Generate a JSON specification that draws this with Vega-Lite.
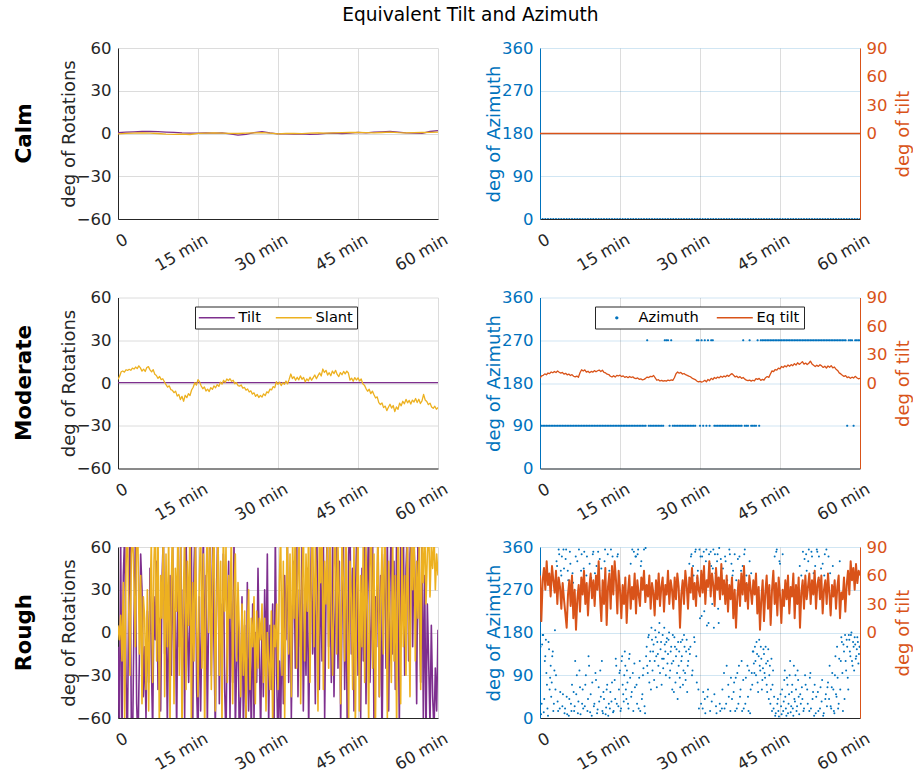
{
"$schema": "https://vega.github.io/schema/vega-lite/v6.json",
"background": "white",
"padding": {"left": 13, "top": 6, "right": 0, "bottom": 0},
"title": {"text": "Equivalent Tilt and Azimuth", "font": "DejaVu Sans", "fontSize": 18.6, "fontWeight": "normal", "color": "#000000", "anchor": "middle", "frame": "bounds", "offset": 15, "dx": 7},
"config": {
  "font": "DejaVu Sans",
  "view": {"stroke": null},
  "line": {"strokeJoin": "round"},
  "axis": {"labelFont": "DejaVu Sans", "labelFontSize": 16.5, "labelColor": "#262626", "titleFont": "DejaVu Sans", "titleFontSize": 18, "titleFontWeight": "normal", "titleColor": "#262626", "gridColor": "#dcdcdc", "domainColor": "#262626", "ticks": false, "labelFlush": false, "labelOverlap": false, "labelBound": false},
  "axisX": {"labelAngle": -30, "labelAlign": "right", "labelBaseline": "middle", "labelPadding": 19, "labelOffset": 8},
  "axisY": {"labelPadding": 7, "titlePadding": -2},
  "legend": {"orient": "none", "legendY": 9, "direction": "horizontal", "symbolSize": 81, "symbolOffset": 10.5, "symbolStrokeWidth": 1.5, "labelFont": "DejaVu Sans", "labelFontSize": 14.6, "labelColor": "#000000", "labelOffset": 14.5, "columnPadding": 14, "strokeColor": "#262626", "fillColor": "#ffffff", "padding": 4, "cornerRadius": 0}
},
"datasets": {
"calm": [
{"t":0,"tilt":0.6,"slant":-0.3,"eq":0},{"t":1.5,"tilt":0.9,"slant":0.1,"eq":0},{"t":3,"tilt":1.2,"slant":0.3,"eq":0},{"t":4.5,"tilt":1.4,"slant":0.5,"eq":0},{"t":6,"tilt":1.5,"slant":0.2,"eq":0},{"t":7.5,"tilt":1.3,"slant":0,"eq":0},{"t":9,"tilt":1,"slant":-0.4,"eq":0},{"t":10.5,"tilt":0.8,"slant":-0.6,"eq":0},{"t":12,"tilt":0.4,"slant":-0.4,"eq":0},{"t":13.5,"tilt":0.2,"slant":-0.7,"eq":0},
{"t":15,"tilt":0.3,"slant":0.1,"eq":0},{"t":16.5,"tilt":0.5,"slant":0.2,"eq":0},{"t":18,"tilt":0.3,"slant":0.4,"eq":0},{"t":19.5,"tilt":0.4,"slant":0.3,"eq":0},{"t":21,"tilt":-0.2,"slant":0.1,"eq":0},{"t":22.5,"tilt":-1.2,"slant":0,"eq":0},{"t":24,"tilt":-0.6,"slant":0.3,"eq":0},{"t":25.5,"tilt":0.6,"slant":0.5,"eq":0},{"t":27,"tilt":1.3,"slant":0.6,"eq":0},{"t":28.5,"tilt":0.4,"slant":0.2,"eq":0},
{"t":30,"tilt":-0.3,"slant":-0.2,"eq":0},{"t":31.5,"tilt":-0.2,"slant":0,"eq":0},{"t":33,"tilt":-0.4,"slant":0.1,"eq":0},{"t":34.5,"tilt":-0.3,"slant":-0.1,"eq":0},{"t":36,"tilt":-0.6,"slant":0.2,"eq":0},{"t":37.5,"tilt":-0.5,"slant":0.4,"eq":0},{"t":39,"tilt":0.1,"slant":0.3,"eq":0},{"t":40.5,"tilt":0.2,"slant":0.5,"eq":0},{"t":42,"tilt":-0.1,"slant":0.6,"eq":0},{"t":43.5,"tilt":0.3,"slant":0.7,"eq":0},
{"t":45,"tilt":0.8,"slant":0.8,"eq":0},{"t":46.5,"tilt":0.5,"slant":0.6,"eq":0},{"t":48,"tilt":0.9,"slant":0.4,"eq":0},{"t":49.5,"tilt":1.1,"slant":0.7,"eq":0},{"t":51,"tilt":1.4,"slant":0.9,"eq":0},{"t":52.5,"tilt":1,"slant":0.6,"eq":0},{"t":54,"tilt":0.4,"slant":0.5,"eq":0},{"t":55.5,"tilt":0.2,"slant":0.6,"eq":0},{"t":57,"tilt":0.1,"slant":0.7,"eq":0},{"t":58.5,"tilt":1.4,"slant":0.8,"eq":0},{"t":60,"tilt":2,"slant":0.9,"eq":0}
],
"calm_az": [
{"t":0,"az":0},{"t":0.5,"az":0},{"t":1,"az":0},{"t":1.5,"az":0},{"t":2,"az":0},{"t":2.5,"az":0},{"t":3,"az":0},{"t":3.5,"az":0},{"t":4,"az":0},{"t":4.5,"az":0},{"t":5,"az":0},{"t":5.5,"az":0},{"t":6,"az":0},{"t":6.5,"az":0},{"t":7,"az":0},{"t":7.5,"az":0},{"t":8,"az":0},{"t":8.5,"az":0},{"t":9,"az":0},{"t":9.5,"az":0},
{"t":10,"az":0},{"t":10.5,"az":0},{"t":11,"az":0},{"t":11.5,"az":0},{"t":12,"az":0},{"t":12.5,"az":0},{"t":13,"az":0},{"t":13.5,"az":0},{"t":14,"az":0},{"t":14.5,"az":0},{"t":15,"az":0},{"t":15.5,"az":0},{"t":16,"az":0},{"t":16.5,"az":0},{"t":17,"az":0},{"t":17.5,"az":0},{"t":18,"az":0},{"t":18.5,"az":0},{"t":19,"az":0},{"t":19.5,"az":0},
{"t":20,"az":0},{"t":20.5,"az":0},{"t":21,"az":0},{"t":21.5,"az":0},{"t":22,"az":0},{"t":22.5,"az":0},{"t":23,"az":0},{"t":23.5,"az":0},{"t":24,"az":0},{"t":24.5,"az":0},{"t":25,"az":0},{"t":25.5,"az":0},{"t":26,"az":0},{"t":26.5,"az":0},{"t":27,"az":0},{"t":27.5,"az":0},{"t":28,"az":0},{"t":28.5,"az":0},{"t":29,"az":0},{"t":29.5,"az":0},
{"t":30,"az":0},{"t":30.5,"az":0},{"t":31,"az":0},{"t":31.5,"az":0},{"t":32,"az":0},{"t":32.5,"az":0},{"t":33,"az":0},{"t":33.5,"az":0},{"t":34,"az":0},{"t":34.5,"az":0},{"t":35,"az":0},{"t":35.5,"az":0},{"t":36,"az":0},{"t":36.5,"az":0},{"t":37,"az":0},{"t":37.5,"az":0},{"t":38,"az":0},{"t":38.5,"az":0},{"t":39,"az":0},{"t":39.5,"az":0},
{"t":40,"az":0},{"t":40.5,"az":0},{"t":41,"az":0},{"t":41.5,"az":0},{"t":42,"az":0},{"t":42.5,"az":0},{"t":43,"az":0},{"t":43.5,"az":0},{"t":44,"az":0},{"t":44.5,"az":0},{"t":45,"az":0},{"t":45.5,"az":0},{"t":46,"az":0},{"t":46.5,"az":0},{"t":47,"az":0},{"t":47.5,"az":0},{"t":48,"az":0},{"t":48.5,"az":0},{"t":49,"az":0},{"t":49.5,"az":0},
{"t":50,"az":0},{"t":50.5,"az":0},{"t":51,"az":0},{"t":51.5,"az":0},{"t":52,"az":0},{"t":52.5,"az":0},{"t":53,"az":0},{"t":53.5,"az":0},{"t":54,"az":0},{"t":54.5,"az":0},{"t":55,"az":0},{"t":55.5,"az":0},{"t":56,"az":0},{"t":56.5,"az":0},{"t":57,"az":0},{"t":57.5,"az":0},{"t":58,"az":0},{"t":58.5,"az":0},{"t":59,"az":0},{"t":59.5,"az":0},{"t":60,"az":0}
],
"moderate_tilt": [{"t":0,"tilt":0.3},{"t":15,"tilt":0.3},{"t":30,"tilt":0.3},{"t":45,"tilt":0.3},{"t":60,"tilt":0.3}],
"moderate": [
{"t":0,"slant":2.5,"az":90,"eq":5.2},{"t":0.3,"slant":4.8,"az":90,"eq":7.4},{"t":0.6,"slant":7.9,"az":90,"eq":8.1},{"t":0.9,"slant":8.4,"az":90,"eq":9.6},{"t":1.2,"slant":7.6,"az":90,"eq":8.7},{"t":1.5,"slant":9.3,"az":90,"eq":10.5},{"t":1.8,"slant":8.8,"az":90,"eq":9.9},{"t":2.1,"slant":9.6,"az":90,"eq":11.6},{"t":2.4,"slant":8.9,"az":90,"eq":10.8},{"t":2.7,"slant":10.4,"az":90,"eq":12.1},
{"t":3,"slant":9.8,"az":90,"eq":11},{"t":3.3,"slant":11.2,"az":90,"eq":12.6},{"t":3.6,"slant":10.1,"az":90,"eq":11.3},{"t":3.9,"slant":12,"az":90,"eq":10.4},{"t":4.2,"slant":10.6,"az":90,"eq":11.1},{"t":4.5,"slant":8.3,"az":90,"eq":9.3},{"t":4.8,"slant":9.7,"az":90,"eq":10.2},{"t":5.1,"slant":8.1,"az":90,"eq":8.6},{"t":5.4,"slant":10.9,"az":90,"eq":9.4},{"t":5.7,"slant":11.5,"az":90,"eq":7.9},
{"t":6,"slant":9.2,"az":90,"eq":8.8},{"t":6.3,"slant":7.8,"az":90,"eq":7.1},{"t":6.6,"slant":9.4,"az":90,"eq":6.4},{"t":6.9,"slant":6.1,"az":90,"eq":7.3},{"t":7.2,"slant":5.3,"az":90,"eq":6},{"t":7.5,"slant":3.2,"az":90,"eq":10.8},{"t":7.8,"slant":4.6,"az":90,"eq":13.9},{"t":8.1,"slant":2.4,"az":90,"eq":12.6},{"t":8.4,"slant":3,"az":90,"eq":13.8},{"t":8.7,"slant":0.9,"az":90,"eq":11.5},
{"t":9,"slant":-1.2,"az":90,"eq":12.4},{"t":9.3,"slant":-2.9,"az":90,"eq":10.9},{"t":9.6,"slant":-2,"az":90,"eq":12.2},{"t":9.9,"slant":-4.6,"az":90,"eq":11.4},{"t":10.2,"slant":-5.1,"az":90,"eq":13},{"t":10.5,"slant":-6.8,"az":90,"eq":11.8},{"t":10.8,"slant":-5.7,"az":90,"eq":12.9},{"t":11.1,"slant":-9.2,"az":90,"eq":13.6},{"t":11.4,"slant":-8,"az":90,"eq":12.1},{"t":11.7,"slant":-11.6,"az":90,"eq":13.4},
{"t":12,"slant":-9.4,"az":90,"eq":11.2},{"t":12.3,"slant":-12.8,"az":90,"eq":10.6},{"t":12.6,"slant":-8.6,"az":90,"eq":9.3},{"t":12.9,"slant":-10.3,"az":90,"eq":8.9},{"t":13.2,"slant":-7.5,"az":90,"eq":7.1},{"t":13.5,"slant":-8.8,"az":90,"eq":6.3},{"t":13.8,"slant":-4.9,"az":90,"eq":7.6},{"t":14.1,"slant":-3,"az":90,"eq":6.2},{"t":14.4,"slant":0.2,"az":90,"eq":8},{"t":14.7,"slant":-1.5,"az":90,"eq":7.4},
{"t":15,"slant":2.4,"az":90,"eq":8.2},{"t":15.3,"slant":0.8,"az":90,"eq":6.7},{"t":15.6,"slant":-2.1,"az":90,"eq":7.5},{"t":15.9,"slant":-4,"az":90,"eq":5.9},{"t":16.2,"slant":-2.8,"az":90,"eq":6.8},{"t":16.5,"slant":-5.6,"az":90,"eq":5.6},{"t":16.8,"slant":-4.3,"az":90,"eq":6.9},{"t":17.1,"slant":-6,"az":90,"eq":5.8},{"t":17.4,"slant":-3.2,"az":90,"eq":6.5},{"t":17.7,"slant":-4.5,"az":90,"eq":5.1},
{"t":18,"slant":-2,"az":90,"eq":4.6},{"t":18.3,"slant":-3.3,"az":90,"eq":5.3},{"t":18.6,"slant":-1.1,"az":90,"eq":3.9},{"t":18.9,"slant":-2.4,"az":90,"eq":4.4},{"t":19.2,"slant":0.6,"az":90,"eq":3.2},{"t":19.5,"slant":-0.8,"az":90,"eq":3.8},{"t":19.8,"slant":1.9,"az":90,"eq":4.9},{"t":20.1,"slant":0.4,"az":270,"eq":6.2},{"t":20.4,"slant":2.8,"az":90,"eq":5.7},{"t":20.7,"slant":1.7,"az":90,"eq":7},
{"t":21,"slant":3,"az":90,"eq":6.6},{"t":21.3,"slant":1.2,"az":90,"eq":7.9},{"t":21.6,"slant":1.9,"az":90,"eq":5.4},{"t":21.9,"slant":-0.5,"az":90,"eq":2.9},{"t":22.2,"slant":0.3,"az":90,"eq":3.5},{"t":22.5,"slant":-1.8,"az":90,"eq":2.1},{"t":22.8,"slant":-2.2,"az":90,"eq":2.8},{"t":23.1,"slant":-1.4,"az":90,"eq":1.9},{"t":23.4,"slant":-3.6,"az":270,"eq":2.6},{"t":23.7,"slant":-3.1,"az":270,"eq":2},
{"t":24,"slant":-5,"az":270,"eq":3.1},{"t":24.3,"slant":-4.2,"az":90,"eq":2.4},{"t":24.6,"slant":-6.3,"az":270,"eq":3.3},{"t":24.9,"slant":-5.5,"az":90,"eq":2.7},{"t":25.2,"slant":-7.8,"az":90,"eq":5.5},{"t":25.5,"slant":-6.9,"az":90,"eq":9.8},{"t":25.8,"slant":-9.4,"az":90,"eq":11.6},{"t":26.1,"slant":-8,"az":90,"eq":10.3},{"t":26.4,"slant":-10.2,"az":90,"eq":11.1},{"t":26.7,"slant":-8.7,"az":90,"eq":9.4},
{"t":27,"slant":-9.9,"az":90,"eq":10},{"t":27.3,"slant":-7.6,"az":90,"eq":8.7},{"t":27.6,"slant":-8.9,"az":90,"eq":8.1},{"t":27.9,"slant":-6.2,"az":90,"eq":7.3},{"t":28.2,"slant":-6.9,"az":90,"eq":6.6},{"t":28.5,"slant":-4.3,"az":90,"eq":5.2},{"t":28.8,"slant":-4.8,"az":90,"eq":4.3},{"t":29.1,"slant":-2.5,"az":90,"eq":3.6},{"t":29.4,"slant":-3.3,"az":270,"eq":2.1},{"t":29.7,"slant":0.9,"az":270,"eq":1.2},
{"t":30,"slant":-1,"az":90,"eq":1.8},{"t":30.3,"slant":0.6,"az":270,"eq":0.9},{"t":30.6,"slant":-1.8,"az":90,"eq":1.6},{"t":30.9,"slant":0.2,"az":270,"eq":2.8},{"t":31.2,"slant":-0.9,"az":90,"eq":1.3},{"t":31.5,"slant":1.4,"az":270,"eq":3.7},{"t":31.8,"slant":-0.6,"az":90,"eq":2.4},{"t":32.1,"slant":2.7,"az":270,"eq":4.9},{"t":32.4,"slant":6.3,"az":270,"eq":3.6},{"t":32.7,"slant":3.1,"az":90,"eq":5.8},
{"t":33,"slant":4.4,"az":90,"eq":4.7},{"t":33.3,"slant":1.9,"az":90,"eq":6.2},{"t":33.6,"slant":4,"az":90,"eq":5.4},{"t":33.9,"slant":2.2,"az":90,"eq":7.1},{"t":34.2,"slant":5,"az":90,"eq":6},{"t":34.5,"slant":2.6,"az":90,"eq":7.4},{"t":34.8,"slant":3.9,"az":90,"eq":6.5},{"t":35.1,"slant":0.8,"az":90,"eq":8.2},{"t":35.4,"slant":2.9,"az":90,"eq":7},{"t":35.7,"slant":1.5,"az":90,"eq":8.8},
{"t":36,"slant":4.1,"az":90,"eq":9.9},{"t":36.3,"slant":1.9,"az":90,"eq":8.1},{"t":36.6,"slant":3.8,"az":90,"eq":6.4},{"t":36.9,"slant":5.6,"az":90,"eq":7.2},{"t":37.2,"slant":3,"az":90,"eq":5.6},{"t":37.5,"slant":5.2,"az":90,"eq":6.7},{"t":37.8,"slant":7.1,"az":90,"eq":4.9},{"t":38.1,"slant":4.9,"az":270,"eq":5.8},{"t":38.4,"slant":9.8,"az":90,"eq":4.1},{"t":38.7,"slant":7.4,"az":90,"eq":3},
{"t":39,"slant":8.9,"az":90,"eq":2.4},{"t":39.3,"slant":5.6,"az":270,"eq":3.1},{"t":39.6,"slant":7.2,"az":90,"eq":2},{"t":39.9,"slant":5.1,"az":90,"eq":2.9},{"t":40.2,"slant":8.4,"az":90,"eq":2.2},{"t":40.5,"slant":6.6,"az":90,"eq":4.6},{"t":40.8,"slant":8.9,"az":270,"eq":3.8},{"t":41.1,"slant":6,"az":90,"eq":4.9},{"t":41.4,"slant":4.5,"az":270,"eq":2.7},{"t":41.7,"slant":7.3,"az":270,"eq":3.9},
{"t":42,"slant":5.8,"az":270,"eq":3.1},{"t":42.3,"slant":8.1,"az":270,"eq":5.6},{"t":42.6,"slant":6.4,"az":270,"eq":6.8},{"t":42.9,"slant":8.3,"az":270,"eq":5.9},{"t":43.2,"slant":7,"az":270,"eq":9.4},{"t":43.5,"slant":2,"az":270,"eq":12.8},{"t":43.8,"slant":3.4,"az":270,"eq":12},{"t":44.1,"slant":1.2,"az":270,"eq":14.2},{"t":44.4,"slant":3.8,"az":270,"eq":13.5},{"t":44.7,"slant":2.1,"az":270,"eq":15.6},
{"t":45,"slant":3.6,"az":270,"eq":14.8},{"t":45.3,"slant":1.4,"az":270,"eq":17.4},{"t":45.6,"slant":2.8,"az":270,"eq":16.3},{"t":45.9,"slant":-0.6,"az":270,"eq":18.1},{"t":46.2,"slant":-1.5,"az":270,"eq":17},{"t":46.5,"slant":-3.9,"az":270,"eq":18.9},{"t":46.8,"slant":-5.8,"az":270,"eq":17.6},{"t":47.1,"slant":-4.4,"az":270,"eq":19.3},{"t":47.4,"slant":-7.5,"az":270,"eq":18.2},{"t":47.7,"slant":-5.7,"az":270,"eq":20.4},
{"t":48,"slant":-8.3,"az":270,"eq":18.9},{"t":48.3,"slant":-10.5,"az":270,"eq":21.3},{"t":48.6,"slant":-9.7,"az":270,"eq":19.6},{"t":48.9,"slant":-13.8,"az":270,"eq":20.9},{"t":49.2,"slant":-15.1,"az":270,"eq":22.5},{"t":49.5,"slant":-14,"az":270,"eq":19.8},{"t":49.8,"slant":-17.3,"az":270,"eq":21},{"t":50.1,"slant":-16.2,"az":270,"eq":19.4},{"t":50.4,"slant":-19.4,"az":270,"eq":20.8},{"t":50.7,"slant":-17,"az":270,"eq":23},
{"t":51,"slant":-14.9,"az":270,"eq":20.1},{"t":51.3,"slant":-17.6,"az":270,"eq":18.6},{"t":51.6,"slant":-15.8,"az":270,"eq":17.3},{"t":51.9,"slant":-20.1,"az":270,"eq":18.8},{"t":52.2,"slant":-16.8,"az":270,"eq":17.5},{"t":52.5,"slant":-18.5,"az":270,"eq":19.2},{"t":52.8,"slant":-14.1,"az":270,"eq":18},{"t":53.1,"slant":-16,"az":270,"eq":16.4},{"t":53.4,"slant":-12.8,"az":270,"eq":17.7},{"t":53.7,"slant":-14.6,"az":270,"eq":15.8},
{"t":54,"slant":-11.5,"az":270,"eq":17.9},{"t":54.3,"slant":-13.9,"az":270,"eq":16.6},{"t":54.6,"slant":-12.2,"az":270,"eq":18.3},{"t":54.9,"slant":-14.8,"az":270,"eq":15.9},{"t":55.2,"slant":-12,"az":270,"eq":16.8},{"t":55.5,"slant":-13.3,"az":270,"eq":14.6},{"t":55.8,"slant":-10.9,"az":270,"eq":13.2},{"t":56.1,"slant":-13.7,"az":270,"eq":10.7},{"t":56.4,"slant":-11.4,"az":270,"eq":9.6},{"t":56.7,"slant":-14.4,"az":270,"eq":8.2},
{"t":57,"slant":-12.6,"az":270,"eq":6.9},{"t":57.3,"slant":-8,"az":270,"eq":7.8},{"t":57.6,"slant":-11.9,"az":90,"eq":5.6},{"t":57.9,"slant":-13,"az":270,"eq":6.4},{"t":58.2,"slant":-15.2,"az":270,"eq":4.9},{"t":58.5,"slant":-14.1,"az":270,"eq":6.1},{"t":58.8,"slant":-16.9,"az":90,"eq":5.3},{"t":59.1,"slant":-17.8,"az":270,"eq":7},{"t":59.4,"slant":-16.3,"az":270,"eq":5.5},{"t":59.7,"slant":-18.4,"az":270,"eq":4.4},
{"t":60,"slant":-17.2,"az":270,"eq":5}
],
"rough": [
{"t":0,"tilt":-10,"slant":5,"eq":60},{"t":0.25,"tilt":-70,"slant":-5,"eq":12},{"t":0.5,"tilt":65,"slant":12,"eq":55},{"t":0.75,"tilt":-75,"slant":-20,"eq":68},{"t":1,"tilt":40,"slant":35,"eq":45},{"t":1.25,"tilt":70,"slant":-60,"eq":75},{"t":1.5,"tilt":-30,"slant":45,"eq":50},{"t":1.75,"tilt":-80,"slant":80,"eq":62},{"t":2,"tilt":20,"slant":20,"eq":38},{"t":2.25,"tilt":75,"slant":-30,"eq":70},
{"t":2.5,"tilt":-65,"slant":55,"eq":55},{"t":2.75,"tilt":-72,"slant":70,"eq":42},{"t":3,"tilt":10,"slant":35,"eq":65},{"t":3.25,"tilt":62,"slant":-10,"eq":30},{"t":3.5,"tilt":-50,"slant":72,"eq":58},{"t":3.75,"tilt":-78,"slant":60,"eq":48},{"t":4,"tilt":-20,"slant":-15,"eq":25},{"t":4.25,"tilt":55,"slant":40,"eq":52},{"t":4.5,"tilt":30,"slant":-50,"eq":35},{"t":4.75,"tilt":-45,"slant":25,"eq":20},{"t":5,"tilt":-10,"slant":10,"eq":5},
{"t":5.25,"tilt":-60,"slant":-40,"eq":40},{"t":5.5,"tilt":15,"slant":30,"eq":55},{"t":5.75,"tilt":-35,"slant":-55,"eq":28},{"t":6,"tilt":45,"slant":20,"eq":60},{"t":6.25,"tilt":-20,"slant":65,"eq":15},{"t":6.5,"tilt":-70,"slant":-35,"eq":45},{"t":6.75,"tilt":25,"slant":50,"eq":3},{"t":7,"tilt":-5,"slant":80,"eq":35},{"t":7.25,"tilt":50,"slant":-20,"eq":50},{"t":7.5,"tilt":-40,"slant":75,"eq":22},
{"t":7.75,"tilt":10,"slant":-70,"eq":58},{"t":8,"tilt":-55,"slant":40,"eq":40},{"t":8.25,"tilt":35,"slant":10,"eq":65},{"t":8.5,"tilt":70,"slant":78,"eq":30},{"t":8.75,"tilt":-15,"slant":-45,"eq":52},{"t":9,"tilt":20,"slant":55,"eq":18},{"t":9.25,"tilt":-65,"slant":-10,"eq":48},{"t":9.5,"tilt":5,"slant":70,"eq":62},{"t":9.75,"tilt":40,"slant":-65,"eq":36},{"t":10,"tilt":-30,"slant":35,"eq":55},
{"t":10.25,"tilt":60,"slant":80,"eq":28},{"t":10.5,"tilt":-25,"slant":-50,"eq":60},{"t":10.75,"tilt":15,"slant":45,"eq":45},{"t":11,"tilt":-70,"slant":15,"eq":75},{"t":11.25,"tilt":40,"slant":75,"eq":38},{"t":11.5,"tilt":-10,"slant":-30,"eq":12},{"t":11.75,"tilt":65,"slant":60,"eq":55},{"t":12,"tilt":-45,"slant":-72,"eq":30},{"t":12.25,"tilt":30,"slant":25,"eq":68},{"t":12.5,"tilt":-60,"slant":70,"eq":8},
{"t":12.75,"tilt":72,"slant":-40,"eq":48},{"t":13,"tilt":5,"slant":50,"eq":62},{"t":13.25,"tilt":-35,"slant":5,"eq":25},{"t":13.5,"tilt":20,"slant":78,"eq":70},{"t":13.75,"tilt":68,"slant":-60,"eq":40},{"t":14,"tilt":-75,"slant":35,"eq":75},{"t":14.25,"tilt":45,"slant":-20,"eq":55},{"t":14.5,"tilt":80,"slant":65,"eq":20},{"t":14.75,"tilt":-40,"slant":10,"eq":65},{"t":15,"tilt":-78,"slant":-45,"eq":45},
{"t":15.25,"tilt":25,"slant":40,"eq":15},{"t":15.5,"tilt":-55,"slant":75,"eq":50},{"t":15.75,"tilt":10,"slant":-25,"eq":30},{"t":16,"tilt":70,"slant":55,"eq":58},{"t":16.25,"tilt":-20,"slant":-70,"eq":10},{"t":16.5,"tilt":40,"slant":30,"eq":42},{"t":16.75,"tilt":-65,"slant":80,"eq":60},{"t":17,"tilt":15,"slant":0,"eq":25},{"t":17.25,"tilt":75,"slant":62,"eq":48},{"t":17.5,"tilt":-30,"slant":-40,"eq":35},
{"t":17.75,"tilt":60,"slant":45,"eq":62},{"t":18,"tilt":-10,"slant":78,"eq":20},{"t":18.25,"tilt":-70,"slant":-55,"eq":55},{"t":18.5,"tilt":35,"slant":20,"eq":40},{"t":18.75,"tilt":78,"slant":70,"eq":28},{"t":19,"tilt":-50,"slant":-30,"eq":58},{"t":19.25,"tilt":20,"slant":50,"eq":45},{"t":19.5,"tilt":-15,"slant":-65,"eq":65},{"t":19.75,"tilt":55,"slant":75,"eq":32},{"t":20,"tilt":-40,"slant":15,"eq":50},
{"t":20.25,"tilt":-75,"slant":60,"eq":38},{"t":20.5,"tilt":10,"slant":-35,"eq":60},{"t":20.75,"tilt":50,"slant":40,"eq":25},{"t":21,"tilt":-60,"slant":10,"eq":52},{"t":21.25,"tilt":30,"slant":72,"eq":42},{"t":21.5,"tilt":-35,"slant":-50,"eq":18},{"t":21.75,"tilt":65,"slant":25,"eq":55},{"t":22,"tilt":-70,"slant":55,"eq":35},{"t":22.25,"tilt":-20,"slant":-20,"eq":62},{"t":22.5,"tilt":15,"slant":35,"eq":28},
{"t":22.75,"tilt":-80,"slant":0,"eq":48},{"t":23,"tilt":-45,"slant":-45,"eq":58},{"t":23.25,"tilt":25,"slant":20,"eq":22},{"t":23.5,"tilt":-65,"slant":-30,"eq":50},{"t":23.75,"tilt":5,"slant":15,"eq":40},{"t":24,"tilt":-78,"slant":-60,"eq":65},{"t":24.25,"tilt":35,"slant":5,"eq":30},{"t":24.5,"tilt":-55,"slant":30,"eq":55},{"t":24.75,"tilt":-10,"slant":-40,"eq":45},{"t":25,"tilt":-72,"slant":10,"eq":25},
{"t":25.25,"tilt":20,"slant":-10,"eq":58},{"t":25.5,"tilt":-60,"slant":25,"eq":35},{"t":25.75,"tilt":0,"slant":-50,"eq":62},{"t":26,"tilt":-35,"slant":15,"eq":48},{"t":26.25,"tilt":45,"slant":-25,"eq":5},{"t":26.5,"tilt":-15,"slant":10,"eq":40},{"t":26.75,"tilt":-70,"slant":-5,"eq":55},{"t":27,"tilt":10,"slant":20,"eq":30},{"t":27.25,"tilt":-45,"slant":-35,"eq":65},{"t":27.5,"tilt":30,"slant":10,"eq":50},
{"t":27.75,"tilt":-25,"slant":-55,"eq":25},{"t":28,"tilt":55,"slant":0,"eq":58},{"t":28.25,"tilt":-65,"slant":-20,"eq":42},{"t":28.5,"tilt":5,"slant":-40,"eq":68},{"t":28.75,"tilt":-40,"slant":15,"eq":35},{"t":29,"tilt":20,"slant":-65,"eq":52},{"t":29.25,"tilt":-75,"slant":5,"eq":28},{"t":29.5,"tilt":70,"slant":-10,"eq":60},{"t":29.75,"tilt":-30,"slant":20,"eq":45},{"t":30,"tilt":-80,"slant":-40,"eq":38},
{"t":30.25,"tilt":-20,"slant":35,"eq":65},{"t":30.5,"tilt":-68,"slant":70,"eq":42},{"t":30.75,"tilt":15,"slant":-30,"eq":70},{"t":31,"tilt":-50,"slant":50,"eq":30},{"t":31.25,"tilt":40,"slant":-60,"eq":55},{"t":31.5,"tilt":-5,"slant":20,"eq":48},{"t":31.75,"tilt":65,"slant":75,"eq":75},{"t":32,"tilt":-35,"slant":-15,"eq":38},{"t":32.25,"tilt":25,"slant":55,"eq":62},{"t":32.5,"tilt":-60,"slant":-45,"eq":50},
{"t":32.75,"tilt":10,"slant":65,"eq":28},{"t":33,"tilt":50,"slant":10,"eq":68},{"t":33.25,"tilt":-25,"slant":80,"eq":45},{"t":33.5,"tilt":72,"slant":-25,"eq":58},{"t":33.75,"tilt":-45,"slant":40,"eq":35},{"t":34,"tilt":30,"slant":70,"eq":72},{"t":34.25,"tilt":-10,"slant":-50,"eq":40},{"t":34.5,"tilt":60,"slant":30,"eq":55},{"t":34.75,"tilt":-55,"slant":78,"eq":30},{"t":35,"tilt":20,"slant":-20,"eq":60},
{"t":35.25,"tilt":-30,"slant":55,"eq":22},{"t":35.5,"tilt":45,"slant":15,"eq":50},{"t":35.75,"tilt":-70,"slant":75,"eq":35},{"t":36,"tilt":15,"slant":-35,"eq":58},{"t":36.25,"tilt":62,"slant":45,"eq":15},{"t":36.5,"tilt":-15,"slant":80,"eq":45},{"t":36.75,"tilt":35,"slant":-10,"eq":5},{"t":37,"tilt":-50,"slant":60,"eq":38},{"t":37.25,"tilt":78,"slant":25,"eq":55},{"t":37.5,"tilt":5,"slant":-55,"eq":28},
{"t":37.75,"tilt":-40,"slant":70,"eq":62},{"t":38,"tilt":55,"slant":35,"eq":40},{"t":38.25,"tilt":-20,"slant":78,"eq":70},{"t":38.5,"tilt":70,"slant":-40,"eq":33},{"t":38.75,"tilt":-60,"slant":50,"eq":52},{"t":39,"tilt":25,"slant":20,"eq":25},{"t":39.25,"tilt":80,"slant":65,"eq":60},{"t":39.5,"tilt":-10,"slant":-25,"eq":45},{"t":39.75,"tilt":40,"slant":80,"eq":30},{"t":40,"tilt":-35,"slant":10,"eq":55},
{"t":40.25,"tilt":65,"slant":-30,"eq":40},{"t":40.5,"tilt":-45,"slant":45,"eq":62},{"t":40.75,"tilt":20,"slant":78,"eq":20},{"t":41,"tilt":75,"slant":-15,"eq":48},{"t":41.25,"tilt":-25,"slant":60,"eq":3},{"t":41.5,"tilt":50,"slant":20,"eq":35},{"t":41.75,"tilt":-65,"slant":-50,"eq":55},{"t":42,"tilt":10,"slant":70,"eq":12},{"t":42.25,"tilt":70,"slant":35,"eq":42},{"t":42.5,"tilt":-40,"slant":-20,"eq":60},
{"t":42.75,"tilt":30,"slant":80,"eq":25},{"t":43,"tilt":-75,"slant":5,"eq":50},{"t":43.25,"tilt":55,"slant":-60,"eq":8},{"t":43.5,"tilt":80,"slant":50,"eq":45},{"t":43.75,"tilt":-15,"slant":25,"eq":65},{"t":44,"tilt":45,"slant":-40,"eq":30},{"t":44.25,"tilt":-55,"slant":65,"eq":52},{"t":44.5,"tilt":20,"slant":-70,"eq":18},{"t":44.75,"tilt":68,"slant":30,"eq":58},{"t":45,"tilt":-30,"slant":75,"eq":40},
{"t":45.25,"tilt":10,"slant":-55,"eq":10},{"t":45.5,"tilt":-60,"slant":40,"eq":45},{"t":45.75,"tilt":45,"slant":-10,"eq":28},{"t":46,"tilt":-20,"slant":70,"eq":55},{"t":46.25,"tilt":72,"slant":-35,"eq":35},{"t":46.5,"tilt":-50,"slant":60,"eq":60},{"t":46.75,"tilt":30,"slant":15,"eq":20},{"t":47,"tilt":78,"slant":-65,"eq":48},{"t":47.25,"tilt":-35,"slant":45,"eq":38},{"t":47.5,"tilt":5,"slant":80,"eq":62},
{"t":47.75,"tilt":60,"slant":-25,"eq":15},{"t":48,"tilt":-70,"slant":55,"eq":50},{"t":48.25,"tilt":25,"slant":-75,"eq":30},{"t":48.5,"tilt":-10,"slant":30,"eq":58},{"t":48.75,"tilt":75,"slant":70,"eq":5},{"t":49,"tilt":-45,"slant":-45,"eq":42},{"t":49.25,"tilt":40,"slant":20,"eq":55},{"t":49.5,"tilt":-80,"slant":60,"eq":25},{"t":49.75,"tilt":15,"slant":-15,"eq":60},{"t":50,"tilt":55,"slant":75,"eq":35},
{"t":50.25,"tilt":-25,"slant":35,"eq":48},{"t":50.5,"tilt":70,"slant":-60,"eq":62},{"t":50.75,"tilt":-55,"slant":50,"eq":30},{"t":51,"tilt":35,"slant":10,"eq":55},{"t":51.25,"tilt":80,"slant":-35,"eq":40},{"t":51.5,"tilt":-15,"slant":65,"eq":65},{"t":51.75,"tilt":50,"slant":-20,"eq":25},{"t":52,"tilt":-40,"slant":40,"eq":50},{"t":52.25,"tilt":75,"slant":-70,"eq":58},{"t":52.5,"tilt":20,"slant":75,"eq":35},
{"t":52.75,"tilt":-65,"slant":25,"eq":60},{"t":53,"tilt":60,"slant":-50,"eq":20},{"t":53.25,"tilt":10,"slant":60,"eq":45},{"t":53.5,"tilt":78,"slant":-10,"eq":55},{"t":53.75,"tilt":-30,"slant":40,"eq":30},{"t":54,"tilt":45,"slant":-30,"eq":62},{"t":54.25,"tilt":72,"slant":70,"eq":42},{"t":54.5,"tilt":-20,"slant":15,"eq":18},{"t":54.75,"tilt":55,"slant":-45,"eq":50},{"t":55,"tilt":80,"slant":65,"eq":38},
{"t":55.25,"tilt":-10,"slant":30,"eq":55},{"t":55.5,"tilt":65,"slant":78,"eq":25},{"t":55.75,"tilt":30,"slant":-20,"eq":48},{"t":56,"tilt":-50,"slant":50,"eq":60},{"t":56.25,"tilt":76,"slant":10,"eq":15},{"t":56.5,"tilt":15,"slant":70,"eq":42},{"t":56.75,"tilt":-35,"slant":-40,"eq":35},{"t":57,"tilt":70,"slant":62,"eq":58},{"t":57.25,"tilt":-60,"slant":35,"eq":22},{"t":57.5,"tilt":40,"slant":80,"eq":50},
{"t":57.75,"tilt":-75,"slant":20,"eq":65},{"t":58,"tilt":20,"slant":55,"eq":40},{"t":58.25,"tilt":-20,"slant":75,"eq":75},{"t":58.5,"tilt":-65,"slant":25,"eq":55},{"t":58.75,"tilt":5,"slant":60,"eq":68},{"t":59,"tilt":-45,"slant":45,"eq":45},{"t":59.25,"tilt":-70,"slant":70,"eq":72},{"t":59.5,"tilt":-25,"slant":30,"eq":52},{"t":59.75,"tilt":-55,"slant":55,"eq":65},{"t":60,"tilt":2,"slant":40,"eq":60}
],
"rough_az": [
{"t":0,"az":170},{"t":0.2,"az":8},{"t":0.4,"az":155},{"t":0.6,"az":175},{"t":0.8,"az":40},{"t":1,"az":130},{"t":1.2,"az":95},{"t":1.4,"az":20},{"t":1.6,"az":160},{"t":1.8,"az":60},
{"t":2,"az":110},{"t":2.2,"az":75},{"t":2.4,"az":140},{"t":2.6,"az":30},{"t":2.8,"az":185},{"t":3,"az":90},{"t":3.2,"az":320},{"t":3.4,"az":15},{"t":3.6,"az":345},{"t":3.8,"az":55},
{"t":4,"az":300},{"t":4.2,"az":25},{"t":4.4,"az":355},{"t":4.6,"az":10},{"t":4.8,"az":335},{"t":5,"az":45},{"t":5.2,"az":310},{"t":5.4,"az":5},{"t":5.6,"az":350},{"t":5.8,"az":30},
{"t":6,"az":70},{"t":6.2,"az":285},{"t":6.4,"az":15},{"t":6.6,"az":120},{"t":6.8,"az":50},{"t":7,"az":330},{"t":7.2,"az":35},{"t":7.4,"az":100},{"t":7.6,"az":8},{"t":7.8,"az":345},
{"t":8,"az":60},{"t":8.2,"az":315},{"t":8.4,"az":25},{"t":8.6,"az":90},{"t":8.8,"az":340},{"t":9,"az":40},{"t":9.2,"az":110},{"t":9.4,"az":12},{"t":9.6,"az":295},{"t":9.8,"az":75},
{"t":10,"az":350},{"t":10.2,"az":30},{"t":10.4,"az":95},{"t":10.6,"az":320},{"t":10.8,"az":18},{"t":11,"az":65},{"t":11.2,"az":335},{"t":11.4,"az":45},{"t":11.6,"az":120},{"t":11.8,"az":10},
{"t":12,"az":40},{"t":12.2,"az":355},{"t":12.4,"az":22},{"t":12.6,"az":70},{"t":12.8,"az":5},{"t":13,"az":310},{"t":13.2,"az":55},{"t":13.4,"az":35},{"t":13.6,"az":340},{"t":13.8,"az":15},
{"t":14,"az":80},{"t":14.2,"az":125},{"t":14.4,"az":30},{"t":14.6,"az":345},{"t":14.8,"az":60},{"t":15,"az":100},{"t":15.2,"az":20},{"t":15.4,"az":130},{"t":15.6,"az":50},{"t":15.8,"az":90},
{"t":16,"az":110},{"t":16.2,"az":40},{"t":16.4,"az":75},{"t":16.6,"az":20},{"t":16.8,"az":135},{"t":17,"az":325},{"t":17.2,"az":55},{"t":17.4,"az":95},{"t":17.6,"az":350},{"t":17.8,"az":65},
{"t":18,"az":340},{"t":18.2,"az":30},{"t":18.4,"az":355},{"t":18.6,"az":85},{"t":18.8,"az":15},{"t":19,"az":330},{"t":19.2,"az":50},{"t":19.4,"az":105},{"t":19.6,"az":25},{"t":19.8,"az":358},
{"t":20,"az":150},{"t":20.2,"az":95},{"t":20.4,"az":175},{"t":20.6,"az":120},{"t":20.8,"az":60},{"t":21,"az":165},{"t":21.2,"az":140},{"t":21.4,"az":80},{"t":21.6,"az":185},{"t":21.8,"az":130},
{"t":22,"az":160},{"t":22.2,"az":110},{"t":22.4,"az":200},{"t":22.6,"az":145},{"t":22.8,"az":70},{"t":23,"az":175},{"t":23.2,"az":125},{"t":23.4,"az":155},{"t":23.6,"az":90},{"t":23.8,"az":168},
{"t":24,"az":135},{"t":24.2,"az":180},{"t":24.4,"az":100},{"t":24.6,"az":150},{"t":24.8,"az":60},{"t":25,"az":120},{"t":25.2,"az":170},{"t":25.4,"az":75},{"t":25.6,"az":145},{"t":25.8,"az":40},
{"t":26,"az":110},{"t":26.2,"az":85},{"t":26.4,"az":160},{"t":26.6,"az":130},{"t":26.8,"az":70},{"t":27,"az":175},{"t":27.2,"az":95},{"t":27.4,"az":140},{"t":27.6,"az":55},{"t":27.8,"az":120},
{"t":28,"az":325},{"t":28.2,"az":150},{"t":28.4,"az":345},{"t":28.6,"az":100},{"t":28.8,"az":300},{"t":29,"az":160},{"t":29.2,"az":355},{"t":29.4,"az":75},{"t":29.6,"az":310},{"t":29.8,"az":20},
{"t":30,"az":210},{"t":30.2,"az":30},{"t":30.4,"az":340},{"t":30.6,"az":55},{"t":30.8,"az":225},{"t":31,"az":10},{"t":31.2,"az":355},{"t":31.4,"az":45},{"t":31.6,"az":200},{"t":31.8,"az":325},
{"t":32,"az":350},{"t":32.2,"az":35},{"t":32.4,"az":315},{"t":32.6,"az":190},{"t":32.8,"az":345},{"t":33,"az":25},{"t":33.2,"az":330},{"t":33.4,"az":230},{"t":33.6,"az":358},{"t":33.8,"az":15},
{"t":34,"az":300},{"t":34.2,"az":60},{"t":34.4,"az":285},{"t":34.6,"az":20},{"t":34.8,"az":330},{"t":35,"az":110},{"t":35.2,"az":270},{"t":35.4,"az":45},{"t":35.6,"az":345},{"t":35.8,"az":85},
{"t":36,"az":40},{"t":36.2,"az":310},{"t":36.4,"az":75},{"t":36.6,"az":15},{"t":36.8,"az":290},{"t":37,"az":95},{"t":37.2,"az":30},{"t":37.4,"az":340},{"t":37.6,"az":60},{"t":37.8,"az":120},
{"t":38,"az":320},{"t":38.2,"az":20},{"t":38.4,"az":355},{"t":38.6,"az":85},{"t":38.8,"az":280},{"t":39,"az":45},{"t":39.2,"az":100},{"t":39.4,"az":10},{"t":39.6,"az":305},{"t":39.8,"az":70},
{"t":40,"az":140},{"t":40.2,"az":95},{"t":40.4,"az":120},{"t":40.6,"az":160},{"t":40.8,"az":75},{"t":41,"az":130},{"t":41.2,"az":110},{"t":41.4,"az":150},{"t":41.6,"az":60},{"t":41.8,"az":105},
{"t":42,"az":135},{"t":42.2,"az":85},{"t":42.4,"az":115},{"t":42.6,"az":55},{"t":42.8,"az":145},{"t":43,"az":90},{"t":43.2,"az":30},{"t":43.4,"az":125},{"t":43.6,"az":70},{"t":43.8,"az":20},
{"t":44,"az":340},{"t":44.2,"az":10},{"t":44.4,"az":355},{"t":44.6,"az":40},{"t":44.8,"az":3},{"t":45,"az":325},{"t":45.2,"az":25},{"t":45.4,"az":60},{"t":45.6,"az":15},{"t":45.8,"az":80},
{"t":46,"az":45},{"t":46.2,"az":5},{"t":46.4,"az":70},{"t":46.6,"az":30},{"t":46.8,"az":90},{"t":47,"az":12},{"t":47.2,"az":55},{"t":47.4,"az":20},{"t":47.6,"az":110},{"t":47.8,"az":35},
{"t":48,"az":60},{"t":48.2,"az":25},{"t":48.4,"az":80},{"t":48.6,"az":8},{"t":48.8,"az":50},{"t":49,"az":300},{"t":49.2,"az":40},{"t":49.4,"az":15},{"t":49.6,"az":335},{"t":49.8,"az":70},
{"t":50,"az":310},{"t":50.2,"az":30},{"t":50.4,"az":355},{"t":50.6,"az":85},{"t":50.8,"az":20},{"t":51,"az":340},{"t":51.2,"az":55},{"t":51.4,"az":5},{"t":51.6,"az":320},{"t":51.8,"az":45},
{"t":52,"az":350},{"t":52.2,"az":15},{"t":52.4,"az":290},{"t":52.6,"az":65},{"t":52.8,"az":35},{"t":53,"az":325},{"t":53.2,"az":10},{"t":53.4,"az":345},{"t":53.6,"az":50},{"t":53.8,"az":25},
{"t":54,"az":75},{"t":54.2,"az":40},{"t":54.4,"az":305},{"t":54.6,"az":20},{"t":54.8,"az":95},{"t":55,"az":60},{"t":55.2,"az":10},{"t":55.4,"az":130},{"t":55.6,"az":45},{"t":55.8,"az":85},
{"t":56,"az":30},{"t":56.2,"az":330},{"t":56.4,"az":120},{"t":56.6,"az":160},{"t":56.8,"az":15},{"t":57,"az":140},{"t":57.2,"az":175},{"t":57.4,"az":100},{"t":57.6,"az":150},{"t":57.8,"az":60},
{"t":58,"az":165},{"t":58.2,"az":130},{"t":58.4,"az":180},{"t":58.6,"az":110},{"t":58.8,"az":150},{"t":59,"az":170},{"t":59.2,"az":125},{"t":59.4,"az":145},{"t":59.6,"az":160},{"t":59.8,"az":135},
{"t":60,"az":150},
{"t":0.1,"az":150},{"t":0.3,"az":30},{"t":0.5,"az":175},{"t":0.7,"az":12},{"t":0.9,"az":120},{"t":1.1,"az":165},{"t":1.3,"az":70},{"t":1.5,"az":5},{"t":1.7,"az":145},{"t":1.9,"az":85},
{"t":2.1,"az":45},{"t":2.3,"az":130},{"t":2.5,"az":15},{"t":2.7,"az":100},{"t":2.9,"az":60},{"t":3.1,"az":330},{"t":3.3,"az":35},{"t":3.5,"az":355},{"t":3.7,"az":20},{"t":3.9,"az":310},
{"t":4.1,"az":340},{"t":4.3,"az":50},{"t":4.5,"az":315},{"t":4.7,"az":20},{"t":4.9,"az":355},{"t":5.1,"az":8},{"t":5.3,"az":290},{"t":5.5,"az":40},{"t":5.7,"az":325},{"t":5.9,"az":15},
{"t":6.1,"az":305},{"t":6.3,"az":55},{"t":6.5,"az":25},{"t":6.7,"az":340},{"t":6.9,"az":90},{"t":7.1,"az":10},{"t":7.3,"az":355},{"t":7.5,"az":65},{"t":7.7,"az":310},{"t":7.9,"az":30},
{"t":8.1,"az":20},{"t":8.3,"az":350},{"t":8.5,"az":70},{"t":8.7,"az":300},{"t":8.9,"az":15},{"t":9.1,"az":130},{"t":9.3,"az":325},{"t":9.5,"az":50},{"t":9.7,"az":5},{"t":9.9,"az":345},
{"t":10.1,"az":25},{"t":10.3,"az":305},{"t":10.5,"az":80},{"t":10.7,"az":10},{"t":10.9,"az":350},{"t":11.1,"az":35},{"t":11.3,"az":100},{"t":11.5,"az":315},{"t":11.7,"az":15},{"t":11.9,"az":55},
{"t":12.1,"az":330},{"t":12.3,"az":8},{"t":12.5,"az":60},{"t":12.7,"az":345},{"t":12.9,"az":30},{"t":13.1,"az":20},{"t":13.3,"az":355},{"t":13.5,"az":75},{"t":13.7,"az":12},{"t":13.9,"az":300},
{"t":14.1,"az":40},{"t":14.3,"az":110},{"t":14.5,"az":340},{"t":14.7,"az":25},{"t":14.9,"az":95},{"t":15.1,"az":15},{"t":15.3,"az":120},{"t":15.5,"az":70},{"t":15.7,"az":35},{"t":15.9,"az":140},
{"t":16.1,"az":60},{"t":16.3,"az":100},{"t":16.5,"az":30},{"t":16.7,"az":125},{"t":16.9,"az":85},{"t":17.1,"az":45},{"t":17.3,"az":355},{"t":17.5,"az":15},{"t":17.7,"az":115},{"t":17.9,"az":340},
{"t":18.1,"az":70},{"t":18.3,"az":345},{"t":18.5,"az":20},{"t":18.7,"az":120},{"t":18.9,"az":320},{"t":19.1,"az":40},{"t":19.3,"az":90},{"t":19.5,"az":355},{"t":19.7,"az":10},{"t":19.9,"az":130},
{"t":20.1,"az":110},{"t":20.3,"az":170},{"t":20.5,"az":75},{"t":20.7,"az":140},{"t":20.9,"az":190},{"t":21.1,"az":100},{"t":21.3,"az":155},{"t":21.5,"az":120},{"t":21.7,"az":170},{"t":21.9,"az":65},
{"t":22.1,"az":135},{"t":22.3,"az":180},{"t":22.5,"az":95},{"t":22.7,"az":160},{"t":22.9,"az":125},{"t":23.1,"az":105},{"t":23.3,"az":190},{"t":23.5,"az":140},{"t":23.7,"az":160},{"t":23.9,"az":115},
{"t":24.1,"az":165},{"t":24.3,"az":85},{"t":24.5,"az":140},{"t":24.7,"az":115},{"t":24.9,"az":175},{"t":25.1,"az":55},{"t":25.3,"az":150},{"t":25.5,"az":130},{"t":25.7,"az":95},{"t":25.9,"az":160},
{"t":26.1,"az":140},{"t":26.3,"az":65},{"t":26.5,"az":120},{"t":26.7,"az":165},{"t":26.9,"az":100},{"t":27.1,"az":150},{"t":27.3,"az":80},{"t":27.5,"az":165},{"t":27.7,"az":110},{"t":27.9,"az":145},
{"t":28.1,"az":135},{"t":28.3,"az":340},{"t":28.5,"az":90},{"t":28.7,"az":320},{"t":28.9,"az":170},{"t":29.1,"az":350},{"t":29.3,"az":130},{"t":29.5,"az":295},{"t":29.7,"az":60},{"t":29.9,"az":355},
{"t":30.1,"az":340},{"t":30.3,"az":215},{"t":30.5,"az":20},{"t":30.7,"az":350},{"t":30.9,"az":40},{"t":31.1,"az":330},{"t":31.3,"az":195},{"t":31.5,"az":60},{"t":31.7,"az":345},{"t":31.9,"az":15},
{"t":32.1,"az":320},{"t":32.3,"az":240},{"t":32.5,"az":355},{"t":32.7,"az":50},{"t":32.9,"az":305},{"t":33.1,"az":10},{"t":33.3,"az":345},{"t":33.5,"az":200},{"t":33.7,"az":30},{"t":33.9,"az":335},
{"t":34.1,"az":20},{"t":34.3,"az":315},{"t":34.5,"az":95},{"t":34.7,"az":340},{"t":34.9,"az":30},{"t":35.1,"az":290},{"t":35.3,"az":70},{"t":35.5,"az":355},{"t":35.7,"az":15},{"t":35.9,"az":325},
{"t":36.1,"az":300},{"t":36.3,"az":55},{"t":36.5,"az":345},{"t":36.7,"az":85},{"t":36.9,"az":20},{"t":37.1,"az":335},{"t":37.3,"az":110},{"t":37.5,"az":45},{"t":37.7,"az":310},{"t":37.9,"az":15},
{"t":38.1,"az":80},{"t":38.3,"az":345},{"t":38.5,"az":30},{"t":38.7,"az":300},{"t":38.9,"az":110},{"t":39.1,"az":15},{"t":39.3,"az":330},{"t":39.5,"az":60},{"t":39.7,"az":95},{"t":39.9,"az":140},
{"t":40.1,"az":115},{"t":40.3,"az":150},{"t":40.5,"az":90},{"t":40.7,"az":135},{"t":40.9,"az":55},{"t":41.1,"az":165},{"t":41.3,"az":100},{"t":41.5,"az":125},{"t":41.7,"az":80},{"t":41.9,"az":145},
{"t":42.1,"az":95},{"t":42.3,"az":150},{"t":42.5,"az":70},{"t":42.7,"az":120},{"t":42.9,"az":40},{"t":43.1,"az":110},{"t":43.3,"az":60},{"t":43.5,"az":15},{"t":43.7,"az":100},{"t":43.9,"az":45},
{"t":44.1,"az":5},{"t":44.3,"az":350},{"t":44.5,"az":30},{"t":44.7,"az":15},{"t":44.9,"az":330},{"t":45.1,"az":50},{"t":45.3,"az":8},{"t":45.5,"az":345},{"t":45.7,"az":35},{"t":45.9,"az":100},
{"t":46.1,"az":20},{"t":46.3,"az":85},{"t":46.5,"az":10},{"t":46.7,"az":50},{"t":46.9,"az":120},{"t":47.1,"az":25},{"t":47.3,"az":70},{"t":47.5,"az":5},{"t":47.7,"az":40},{"t":47.9,"az":90},
{"t":48.1,"az":15},{"t":48.3,"az":100},{"t":48.5,"az":45},{"t":48.7,"az":320},{"t":48.9,"az":30},{"t":49.1,"az":65},{"t":49.3,"az":350},{"t":49.5,"az":20},{"t":49.7,"az":90},{"t":49.9,"az":345},
{"t":50.1,"az":60},{"t":50.3,"az":330},{"t":50.5,"az":15},{"t":50.7,"az":95},{"t":50.9,"az":350},{"t":51.1,"az":40},{"t":51.3,"az":305},{"t":51.5,"az":70},{"t":51.7,"az":10},{"t":51.9,"az":355},
{"t":52.1,"az":55},{"t":52.3,"az":340},{"t":52.5,"az":20},{"t":52.7,"az":315},{"t":52.9,"az":80},{"t":53.1,"az":5},{"t":53.3,"az":300},{"t":53.5,"az":40},{"t":53.7,"az":355},{"t":53.9,"az":65},
{"t":54.1,"az":340},{"t":54.3,"az":110},{"t":54.5,"az":25},{"t":54.7,"az":65},{"t":54.9,"az":320},{"t":55.1,"az":15},{"t":55.3,"az":90},{"t":55.5,"az":50},{"t":55.7,"az":150},{"t":55.9,"az":20},
{"t":56.1,"az":125},{"t":56.3,"az":60},{"t":56.5,"az":170},{"t":56.7,"az":95},{"t":56.9,"az":155},{"t":57.1,"az":40},{"t":57.3,"az":120},{"t":57.5,"az":165},{"t":57.7,"az":85},{"t":57.9,"az":175},
{"t":58.1,"az":140},{"t":58.3,"az":175},{"t":58.5,"az":120},{"t":58.7,"az":160},{"t":58.9,"az":100},{"t":59.1,"az":155},{"t":59.3,"az":130},{"t":59.5,"az":170},{"t":59.7,"az":115},{"t":59.9,"az":150}
]
},
"concat": [
{
"width": 320, "height": 171,
"title": {"text": "Calm", "orient": "left", "font": "DejaVu Sans", "fontSize": 21.5, "fontWeight": "bold", "color": "#000000", "offset": 25},
"data": {"name": "calm"},
"encoding": {"x": {"field": "t", "type": "quantitative", "scale": {"domain": [0, 60], "nice": false}, "axis": {"values": [0, 15, 30, 45, 60], "labelExpr": "datum.value === 0 ? '0' : datum.value + ' min'", "title": null}}},
"layer": [
{"mark": {"type": "line", "color": "#7E2F8E", "strokeWidth": 1.3, "clip": true}, "encoding": {"y": {"field": "tilt", "type": "quantitative", "scale": {"domain": [-60, 60], "nice": false}, "axis": {"values": [-60, -30, 0, 30, 60], "title": "deg of Rotations"}}}},
{"mark": {"type": "line", "color": "#EDB120", "strokeWidth": 1.3, "clip": true}, "encoding": {"y": {"field": "slant", "type": "quantitative", "scale": {"domain": [-60, 60], "nice": false}, "axis": {"values": [-60, -30, 0, 30, 60], "title": "deg of Rotations"}}}}
]
},
{
"width": 320, "height": 171,
"encoding": {"x": {"field": "t", "type": "quantitative", "scale": {"domain": [0, 60], "nice": false}, "axis": {"values": [0, 15, 30, 45, 60], "labelExpr": "datum.value === 0 ? '0' : datum.value + ' min'", "title": null}}},
"layer": [
{"data": {"name": "calm_az"}, "mark": {"type": "point", "filled": true, "color": "#0072BD", "size": 5, "opacity": 1, "clip": true}, "encoding": {"y": {"field": "az", "type": "quantitative", "scale": {"domain": [0, 360], "nice": false}, "axis": {"orient": "left", "values": [0, 90, 180, 270, 360], "title": "deg of Azimuth", "labelColor": "#0072BD", "titleColor": "#0072BD", "domainColor": "#0072BD", "gridColor": "#0072BD", "gridOpacity": 0.18}}}},
{"data": {"name": "calm"}, "mark": {"type": "line", "color": "#D95319", "strokeWidth": 1.3, "clip": true}, "encoding": {"y": {"field": "eq", "type": "quantitative", "scale": {"domain": [-90, 90], "nice": false}, "axis": {"orient": "right", "values": [0, 30, 60, 90], "title": "deg of tilt", "grid": false, "labelColor": "#D95319", "titleColor": "#D95319", "domainColor": "#D95319", "labelPadding": 6, "titleAngle": 270, "titleBaseline": "top", "titlePadding": 8}}}}
],
"resolve": {"scale": {"y": "independent"}}
},
{
"width": 320, "height": 171,
"title": {"text": "Moderate", "orient": "left", "font": "DejaVu Sans", "fontSize": 21.5, "fontWeight": "bold", "color": "#000000", "offset": 25},
"encoding": {"x": {"field": "t", "type": "quantitative", "scale": {"domain": [0, 60], "nice": false}, "axis": {"values": [0, 15, 30, 45, 60], "labelExpr": "datum.value === 0 ? '0' : datum.value + ' min'", "title": null}}},
"layer": [
{"data": {"name": "moderate_tilt"}, "mark": {"type": "line", "strokeWidth": 1.3, "clip": true}, "encoding": {"y": {"field": "tilt", "type": "quantitative", "scale": {"domain": [-60, 60], "nice": false}, "axis": {"values": [-60, -30, 0, 30, 60], "title": "deg of Rotations"}}, "color": {"datum": "Tilt", "scale": {"domain": ["Tilt", "Slant"], "range": ["#7E2F8E", "#EDB120"]}, "legend": {"legendX": 77, "title": null, "symbolType": "M-4,0H4"}}}},
{"data": {"name": "moderate"}, "mark": {"type": "line", "strokeWidth": 1.3, "clip": true}, "encoding": {"y": {"field": "slant", "type": "quantitative", "scale": {"domain": [-60, 60], "nice": false}, "axis": {"values": [-60, -30, 0, 30, 60], "title": "deg of Rotations"}}, "color": {"datum": "Slant", "legend": {"legendX": 77, "title": null, "symbolType": "M-4,0H4"}}}}
]
},
{
"width": 320, "height": 171,
"data": {"name": "moderate"},
"encoding": {"x": {"field": "t", "type": "quantitative", "scale": {"domain": [0, 60], "nice": false}, "axis": {"values": [0, 15, 30, 45, 60], "labelExpr": "datum.value === 0 ? '0' : datum.value + ' min'", "title": null}}},
"layer": [
{"mark": {"type": "point", "filled": true, "size": 121, "opacity": 1, "clip": true}, "encoding": {"y": {"field": "az", "type": "quantitative", "scale": {"domain": [0, 360], "nice": false}, "axis": {"orient": "left", "values": [0, 90, 180, 270, 360], "title": "deg of Azimuth", "labelColor": "#0072BD", "titleColor": "#0072BD", "domainColor": "#0072BD", "gridColor": "#0072BD", "gridOpacity": 0.18}}, "color": {"datum": "Azimuth", "scale": {"domain": ["Azimuth", "Eq tilt"], "range": ["#0072BD", "#D95319"]}, "legend": {"legendX": 55, "title": null}}, "shape": {"datum": "Azimuth", "scale": {"domain": ["Azimuth", "Eq tilt"], "range": ["M-0.2,0A0.2,0.2,0,1,0,0.2,0A0.2,0.2,0,1,0,-0.2,0Z", "M-4,0H4"]}, "legend": {"legendX": 55, "title": null}}}},
{"mark": {"type": "line", "strokeWidth": 1.3, "clip": true}, "encoding": {"y": {"field": "eq", "type": "quantitative", "scale": {"domain": [-90, 90], "nice": false}, "axis": {"orient": "right", "values": [0, 30, 60, 90], "title": "deg of tilt", "grid": false, "labelColor": "#D95319", "titleColor": "#D95319", "domainColor": "#D95319", "labelPadding": 6, "titleAngle": 270, "titleBaseline": "top", "titlePadding": 8}}, "color": {"datum": "Eq tilt", "legend": {"legendX": 55, "title": null}}}}
],
"resolve": {"scale": {"y": "independent"}}
},
{
"width": 320, "height": 171,
"title": {"text": "Rough", "orient": "left", "font": "DejaVu Sans", "fontSize": 21.5, "fontWeight": "bold", "color": "#000000", "offset": 25},
"data": {"name": "rough"},
"encoding": {"x": {"field": "t", "type": "quantitative", "scale": {"domain": [0, 60], "nice": false}, "axis": {"values": [0, 15, 30, 45, 60], "labelExpr": "datum.value === 0 ? '0' : datum.value + ' min'", "title": null}}},
"layer": [
{"mark": {"type": "line", "color": "#7E2F8E", "strokeWidth": 1.6, "clip": true}, "encoding": {"y": {"field": "tilt", "type": "quantitative", "scale": {"domain": [-60, 60], "nice": false}, "axis": {"values": [-60, -30, 0, 30, 60], "title": "deg of Rotations"}}}},
{"mark": {"type": "line", "color": "#EDB120", "strokeWidth": 1.6, "clip": true}, "encoding": {"y": {"field": "slant", "type": "quantitative", "scale": {"domain": [-60, 60], "nice": false}, "axis": {"values": [-60, -30, 0, 30, 60], "title": "deg of Rotations"}}}}
]
},
{
"width": 320, "height": 171,
"encoding": {"x": {"field": "t", "type": "quantitative", "scale": {"domain": [0, 60], "nice": false}, "axis": {"values": [0, 15, 30, 45, 60], "labelExpr": "datum.value === 0 ? '0' : datum.value + ' min'", "title": null}}},
"layer": [
{"data": {"name": "rough_az"}, "mark": {"type": "point", "filled": true, "color": "#0072BD", "size": 4, "opacity": 1, "clip": true}, "encoding": {"y": {"field": "az", "type": "quantitative", "scale": {"domain": [0, 360], "nice": false}, "axis": {"orient": "left", "values": [0, 90, 180, 270, 360], "title": "deg of Azimuth", "labelColor": "#0072BD", "titleColor": "#0072BD", "domainColor": "#0072BD", "gridColor": "#0072BD", "gridOpacity": 0.18}}}},
{"data": {"name": "rough"}, "mark": {"type": "line", "color": "#D95319", "strokeWidth": 2, "clip": true}, "encoding": {"y": {"field": "eq", "type": "quantitative", "scale": {"domain": [-90, 90], "nice": false}, "axis": {"orient": "right", "values": [0, 30, 60, 90], "title": "deg of tilt", "grid": false, "labelColor": "#D95319", "titleColor": "#D95319", "domainColor": "#D95319", "labelPadding": 6, "titleAngle": 270, "titleBaseline": "top", "titlePadding": 8}}}}
],
"resolve": {"scale": {"y": "independent"}}
}
],
"columns": 2,
"spacing": {"row": 78.5, "column": 102},
"bounds": "flush",
"resolve": {"scale": {"color": "independent", "shape": "independent"}, "legend": {"color": "independent", "shape": "independent"}}
}
